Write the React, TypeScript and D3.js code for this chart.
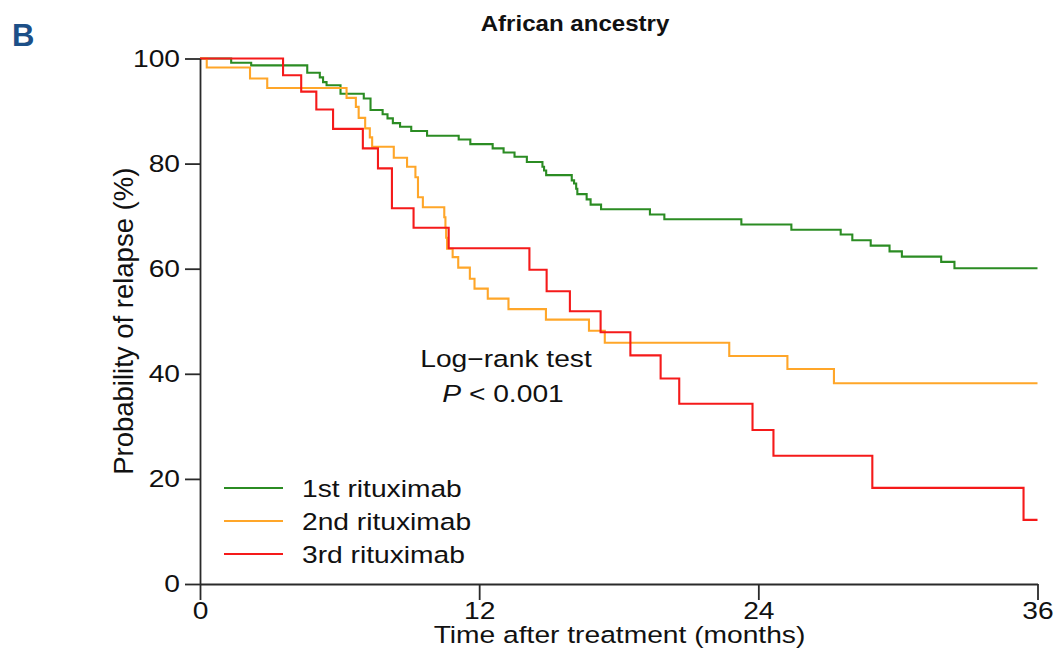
import React, { useEffect, useRef } from 'react';
import * as d3 from 'd3';

// step times (months) and survival values (%) after each step
const firstTimes = [0, 1.34, 2.2, 4.61, 5.15, 5.29, 5.44, 6.04, 7.04, 7.33, 7.85, 8.06, 8.29, 8.6, 9.08, 9.76, 11.12, 11.62, 12.58, 13.05, 13.52, 14.05, 14.72, 14.79, 14.88, 15.98, 16.08, 16.17, 16.22, 16.62, 16.79, 17.24, 19.34, 19.96, 23.27, 25.42, 27.54, 28.04, 28.83, 29.64, 30.17, 31.86, 32.43, 36];
const firstSurv = [100, 99.2, 98.7, 97.3, 96.4, 95.5, 94.9, 93.3, 92.4, 90.2, 89.4, 88.6, 87.7, 87.0, 86.2, 85.3, 84.6, 83.7, 82.9, 82.1, 81.3, 80.3, 79.4, 78.7, 77.8, 76.8, 76.2, 75.2, 74.2, 73.2, 72.2, 71.3, 70.3, 69.4, 68.4, 67.4, 66.5, 65.4, 64.4, 63.3, 62.3, 61.3, 60.1, 60.1];

const secondTimes = [0, 0.29, 2.15, 2.89, 6.3, 6.7, 6.82, 7.1, 7.3, 7.4, 8.33, 8.9, 9.26, 9.37, 9.58, 10.5, 10.55, 10.58, 10.62, 10.86, 11.1, 11.6, 11.8, 12.37, 13.26, 14.87, 16.72, 17.4, 22.75, 25.25, 27.25, 36];
const secondSurv = [100, 98.3, 96.2, 94.4, 92.5, 90.8, 88.7, 86.7, 85.0, 83.2, 81.1, 79.4, 77.4, 73.6, 71.7, 69.8, 67.8, 65.9, 63.8, 62.2, 60.2, 58.1, 56.2, 54.3, 52.3, 50.3, 48.2, 45.9, 43.4, 40.9, 38.2, 38.2];

const thirdTimes = [0, 3.57, 4.35, 5.0, 5.72, 7.0, 7.65, 8.25, 9.18, 10.69, 14.16, 14.9, 15.9, 17.22, 18.5, 19.8, 20.6, 23.75, 24.65, 28.9, 35.4, 36];
const thirdSurv = [100, 96.8, 93.7, 90.3, 86.6, 82.9, 79.1, 71.5, 67.8, 63.9, 59.8, 55.7, 51.9, 47.9, 43.5, 39.1, 34.3, 29.3, 24.4, 18.3, 12.2, 12.2];

const seriesNames = ['1st rituximab', '2nd rituximab', '3rd rituximab'];
const seriesColors = ['#2b8c23', '#ffa629', '#f51a1a'];
const xTicks = [0, 12, 24, 36];
const yTicks = [0, 20, 40, 60, 80, 100];

const font = '"Liberation Sans", Arial, Helvetica, sans-serif';
const fs = 23.5; // glyph height of the text
const sx = 1.2; // text in the figure is wider than it is tall

function Label({ x, y, anchor = 'start', children, size = fs, scale = sx, bold = false }: any) {
  return (
    <text transform={`translate(${x},${y}) scale(${scale},1)`} fontFamily={font} fontSize={size}
      fontWeight={bold ? 'bold' : 'normal'} textAnchor={anchor} fill="#111">
      {children}
    </text>
  );
}

export default function App() {
  const xAxisRef = useRef<SVGGElement>(null);
  const yAxisRef = useRef<SVGGElement>(null);

  const x = d3.scaleLinear().domain([0, 36]).range([200, 1037.5]);
  const y = d3.scaleLinear().domain([0, 100]).range([584, 58.5]);

  const line = d3.line<[number, number]>()
    .x(d => x(d[0]))
    .y(d => y(d[1]))
    .curve(d3.curveStepAfter);

  const series = [
    d3.zip(firstTimes, firstSurv) as [number, number][],
    d3.zip(secondTimes, secondSurv) as [number, number][],
    d3.zip(thirdTimes, thirdSurv) as [number, number][],
  ];

  useEffect(() => {
    const xa = d3.select(xAxisRef.current!);
    xa.selectAll('*').remove();
    xa.call(d3.axisBottom(x).tickValues(xTicks).tickSize(16).tickPadding(2).tickSizeOuter(0));
    const ya = d3.select(yAxisRef.current!);
    ya.selectAll('*').remove();
    ya.call(d3.axisLeft(y).tickValues(yTicks).tickSize(15).tickPadding(5).tickSizeOuter(0));
    [xa, ya].forEach(a => {
      a.selectAll('path, line').attr('stroke', '#2a2a2a').attr('stroke-width', 1.8);
      a.selectAll('text').attr('font-family', font).attr('font-size', fs).attr('fill', '#111')
        .attr('transform', `scale(${sx},1)`);
    });
    ya.selectAll('text').attr('x', -20 / sx);
  }, []);

  return (
    <svg width={1057} height={656} style={{ position: 'absolute', left: 0, top: 0, background: '#fff' }}>
      <text x={12} y={46} fontFamily={font} fontWeight="bold" fontSize={31} fill="#1c4f87">B</text>
      <Label x={575} y={31} anchor="middle" size={22.5} scale={1.07} bold>African ancestry</Label>

      {series.map((s, i) => (
        <path key={i} d={line(s) || ''} fill="none" stroke={seriesColors[i]} strokeWidth={2.1} />
      ))}

      <g ref={xAxisRef} transform={`translate(0,${y(0)})`} />
      <g ref={yAxisRef} transform={`translate(${x(0)},0)`} />

      <Label x={619.5} y={643} anchor="middle">Time after treatment (months)</Label>
      <text transform={`translate(133,${(y(0) + y(100)) / 2}) rotate(-90)`} fontFamily={font} fontSize={27.5}
        textAnchor="middle" fill="#111">Probability of relapse (%)</text>

      <Label x={506} y={367} anchor="middle">Log−rank test</Label>
      <Label x={503} y={401.5} anchor="middle">
        <tspan fontStyle="italic">P</tspan> &lt; 0.001
      </Label>

      {seriesNames.map((n, i) => (
        <g key={n}>
          <line x1={224} x2={283} y1={488 + i * 33} y2={488 + i * 33} stroke={seriesColors[i]} strokeWidth={2.1} />
          <Label x={302} y={497 + i * 33}>{n}</Label>
        </g>
      ))}
    </svg>
  );
}
